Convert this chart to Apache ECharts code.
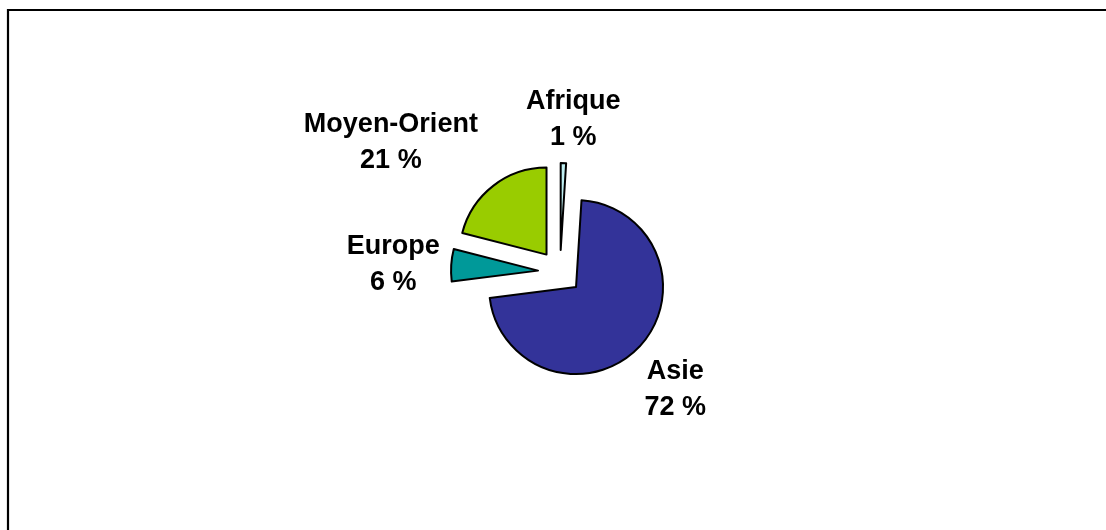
<!DOCTYPE html>
<html>
<head>
<meta charset="utf-8">
<style>
  html, body { margin: 0; padding: 0; background: #fff; }
  #chart { width: 1106px; height: 530px; }
</style>
<script src="https://cdn.jsdelivr.net/npm/echarts@6/dist/echarts.min.js"></script>
</head>
<body>
<div id="chart"></div>
<script>
// régions, dans l'ordre des aiguilles depuis midi
var regions = ['Afrique', 'Asie', 'Europe', 'Moyen-Orient'];
var parts = [1, 72, 6, 21];
var couleurs = ['#BFEFF2', '#333399', '#009999', '#99CC00'];

// petits décalages des étiquettes (dx, dy)
var decal = [[8, 12], [-5, 5], [-2, 3], [-68, 1]];

var serData = [];
for (var i = 0; i < regions.length; i++) {
    serData.push({
        name: regions[i],
        value: parts[i],
        selected: true,
        itemStyle: { color: couleurs[i] }
    });
}

var myChart = echarts.init(document.getElementById('chart'));
myChart.setOption({
    animation: false,
    backgroundColor: '#fff',
    // cadre du graphique (haut + gauche seulement)
    graphic: [{
        type: 'polyline',
        shape: { points: [[8, 530], [8, 10], [1106, 10]] },
        style: { stroke: '#000', lineWidth: 2.2, fill: null }
    }],
    series: [{
        type: 'pie',
        center: [560, 272],
        radius: 87,
        startAngle: 90,
        clockwise: true,
        selectedMode: 'multiple',
        selectedOffset: 22,
        avoidLabelOverlap: false,
        percentPrecision: 0,
        data: serData,
        itemStyle: { borderColor: '#000', borderWidth: 2 },
        select: {
            itemStyle: { borderColor: '#000', borderWidth: 2 },
            label: { color: '#000' }
        },
        label: {
            show: true,
            position: 'outside',
            formatter: '{b}\n{d} %',
            fontFamily: 'Liberation Sans, Arial, sans-serif',
            fontWeight: 'bold',
            fontSize: 27,
            lineHeight: 36,
            color: '#000',
            distanceToLabelLine: 0
        },
        labelLine: { show: false, length: 56, length2: 0 },
        labelLayout: function (params) {
            var d = decal[params.dataIndex];
            return { align: 'center', verticalAlign: 'middle', dx: d[0], dy: d[1] };
        },
        emphasis: { disabled: true }
    }]
});
</script>
</body>
</html>
